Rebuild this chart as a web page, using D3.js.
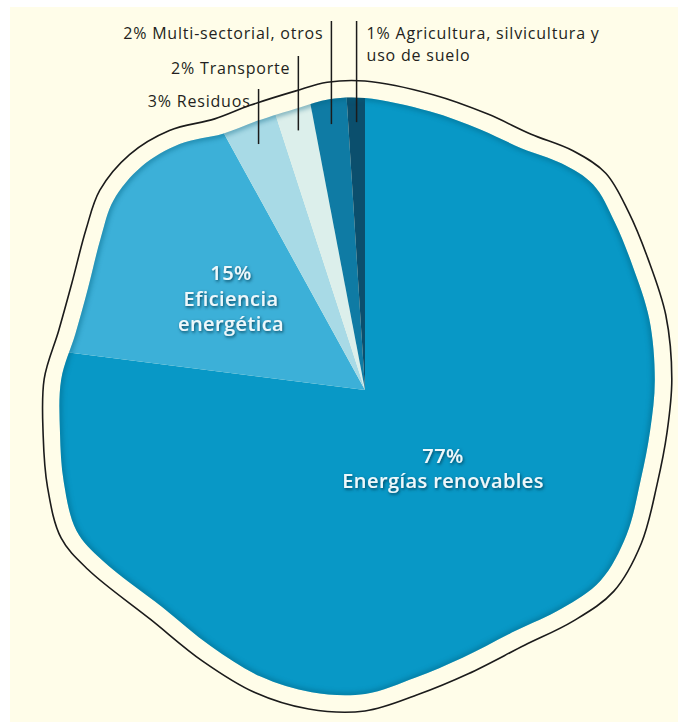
<!DOCTYPE html>
<html>
<head>
<meta charset="utf-8">
<script src="https://cdn.jsdelivr.net/npm/d3@7"></script>
<style>
  body { margin: 0; background: #fff; }
  svg { display: block; }
</style>
</head>
<body>
<svg id="chart" width="678" height="722"></svg>
<script>
// data
const sectors = ["Energías renovables", "Eficiencia energética", "Residuos", "Transporte", "Multi-sectorial, otros", "Agricultura, silvicultura y uso de suelo"];
const shares = [77, 15, 3, 2, 2, 1];
const labels = [
    ["77%", "Energías renovables"],
    ["15%", "Eficiencia", "energética"],
    ["3% Residuos"],
    ["2% Transporte"],
    ["2% Multi-sectorial, otros"],
    ["1% Agricultura, silvicultura y", "uso de suelo"]
];
const colors = ["#0898c6", "#3cb0d8", "#a8dae6", "#dcefeb", "#0f7ba4", "#0b4f6d"];

// wobbly outline of the pie (degrees clockwise from top, radius in px)
const rimAngles = [0, 13, 24, 33, 41, 48, 56, 65, 76, 88, 98, 108, 119, 129, 138, 148, 160, 170, 180, 190, 200, 211, 223, 237, 244, 253, 262, 272, 281, 290, 300, 307, 315, 323, 331, 338, 347, 353];
const rimRadii  = [292, 286, 285, 288, 300, 307, 301, 295, 293, 290, 288, 290, 299, 303, 294, 284, 285, 292, 304, 307, 305, 299, 297, 313, 321, 315, 308, 304, 295, 295, 305, 315, 316, 308, 293, 290, 290, 293];

const cx = 365, cy = 390;
const svg = d3.select("#chart");

svg.append("rect")
    .attr("x", 10).attr("y", 7)
    .attr("width", 668).attr("height", 715)
    .attr("fill", "#fffde9");

const defs = svg.append("defs");
defs.append("filter").attr("id", "soft")
    .append("feGaussianBlur").attr("stdDeviation", 2.5);
const shadow = defs.append("filter").attr("id", "txtshadow")
    .attr("x", "-20%").attr("y", "-40%").attr("width", "140%").attr("height", "180%");
shadow.append("feDropShadow")
    .attr("dx", 1).attr("dy", 1.5).attr("stdDeviation", 1.6)
    .attr("flood-color", "#043a52").attr("flood-opacity", 0.9);

const rimPoints = rimAngles.map((a, i) => [a * Math.PI / 180, rimRadii[i]]);
const rim = d3.lineRadial()
    .angle(d => d[0])
    .radius(d => d[1])
    .curve(d3.curveCatmullRomClosed.alpha(0.5));
const outerRim = d3.lineRadial()
    .angle(d => d[0])
    .radius(d => d[1] + 17)
    .curve(d3.curveCatmullRomClosed.alpha(0.5));

defs.append("clipPath").attr("id", "rimclip")
    .append("path")
    .attr("transform", `translate(${cx},${cy})`)
    .attr("d", rim(rimPoints));

// thin outline around the pie
svg.append("path")
    .attr("transform", `translate(${cx},${cy})`)
    .attr("d", outerRim(rimPoints))
    .attr("fill", "none")
    .attr("stroke", "#1b1b1b")
    .attr("stroke-width", 1.6);

const pie = d3.pie().sort(null).value(d => d)(shares);
const arc = d3.arc().innerRadius(0).outerRadius(380);

const slices = svg.append("g")
    .attr("clip-path", "url(#rimclip)")
    .append("g")
    .attr("transform", `translate(${cx},${cy})`);

slices.selectAll("path.slice")
    .data(pie)
    .enter().append("path")
    .attr("class", "slice")
    .attr("d", arc)
    .attr("fill", (d, i) => colors[i]);

// dark inner edge
slices.append("path")
    .attr("d", rim(rimPoints))
    .attr("fill", "none")
    .attr("stroke", "#05607f")
    .attr("stroke-width", 5)
    .attr("opacity", 0.5)
    .attr("filter", "url(#soft)");

const g = svg.append("g").attr("transform", `translate(${cx},${cy})`);

// labels inside the two big slices
const innerR = [118, 162];
const innerShift = [-3, 7];
pie.slice(0, 2).forEach((d, i) => {
    const c = d3.arc().innerRadius(innerR[i]).outerRadius(innerR[i]).centroid(d);
    const lines = labels[i];
    const t = g.append("text")
        .attr("text-anchor", "middle")
        .attr("font-family", "'Open Sans', sans-serif")
        .attr("font-weight", 600)
        .attr("font-size", 20)
        .attr("letter-spacing", 0.4)
        .attr("fill", "#eef8fb")
        .attr("filter", "url(#txtshadow)");
    lines.forEach((line, j) => {
        t.append("tspan")
            .attr("x", c[0])
            .attr("y", c[1] + (j - (lines.length - 1) / 2) * 25.5 + innerShift[i])
            .text(line);
    });
});

// labels for the small slices, with vertical leaders
const rowY = [101, 68, 33, 33];
const leadR = 268;
pie.slice(2).forEach((d, k) => {
    const i = k + 2;
    const mid = (d.startAngle + d.endAngle) / 2;
    const lx = Math.sin(mid) * leadR;
    const ly = -Math.cos(mid) * leadR;
    const y = rowY[k] - cy;
    const right = i === 5;

    g.append("line")
        .attr("x1", lx).attr("x2", lx)
        .attr("y1", y - 12).attr("y2", ly)
        .attr("stroke", "#1b1b1b")
        .attr("stroke-width", 1.5);

    const t = g.append("text")
        .attr("text-anchor", right ? "start" : "end")
        .attr("font-family", "'Open Sans', sans-serif")
        .attr("font-weight", 500)
        .attr("font-size", 16)
        .attr("letter-spacing", 0.8)
        .attr("fill", "#231f20");
    labels[i].forEach((line, j) => {
        t.append("tspan")
            .attr("x", right ? lx + 10 : lx - 8)
            .attr("y", y + 6 + j * 22)
            .text(line);
    });
});
</script>
</body>
</html>
